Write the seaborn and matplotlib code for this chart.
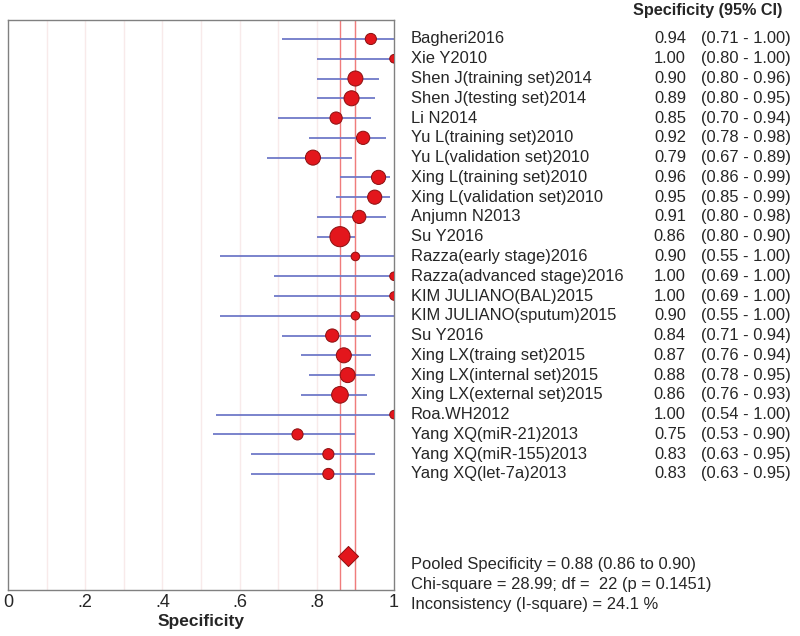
import matplotlib
matplotlib.use("Agg")
import matplotlib.pyplot as plt
import matplotlib.transforms as mtransforms
import seaborn as sns
import pandas as pd
import numpy as np

studies = ["Bagheri2016", "Xie Y2010", "Shen J(training set)2014", "Shen J(testing set)2014",
           "Li N2014", "Yu L(training set)2010", "Yu L(validation set)2010",
           "Xing L(training set)2010", "Xing L(validation set)2010", "Anjumn N2013", "Su Y2016",
           "Razza(early stage)2016", "Razza(advanced stage)2016", "KIM JULIANO(BAL)2015",
           "KIM JULIANO(sputum)2015", "Su Y2016", "Xing LX(traing set)2015",
           "Xing LX(internal set)2015", "Xing LX(external set)2015", "Roa.WH2012",
           "Yang XQ(miR-21)2013", "Yang XQ(miR-155)2013", "Yang XQ(let-7a)2013"]
spec = [0.94, 1.00, 0.90, 0.89, 0.85, 0.92, 0.79, 0.96, 0.95, 0.91, 0.86, 0.90, 1.00, 1.00,
        0.90, 0.84, 0.87, 0.88, 0.86, 1.00, 0.75, 0.83, 0.83]
ci_lo = [0.71, 0.80, 0.80, 0.80, 0.70, 0.78, 0.67, 0.86, 0.85, 0.80, 0.80, 0.55, 0.69, 0.69,
         0.55, 0.71, 0.76, 0.78, 0.76, 0.54, 0.53, 0.63, 0.63]
ci_hi = [1.00, 1.00, 0.96, 0.95, 0.94, 0.98, 0.89, 0.99, 0.99, 0.98, 0.90, 1.00, 1.00, 1.00,
         1.00, 0.94, 0.94, 0.95, 0.93, 1.00, 0.90, 0.95, 0.95]
weight = [2.5, 1.5, 4.5, 4.5, 3.0, 3.5, 4.5, 4.0, 4.0, 3.5, 8.0, 1.5, 1.5, 1.5,
          1.5, 3.5, 4.5, 4.5, 5.5, 1.5, 2.5, 2.5, 2.5]
pooled = 0.88
pooled_lo = 0.86
pooled_hi = 0.90
xticks = [0, 0.2, 0.4, 0.6, 0.8, 1.0]
xticklabels = ["0", ".2", ".4", ".6", ".8", "1"]
summary_lines = ["Pooled Specificity = 0.88 (0.86 to 0.90)",
                 "Chi-square = 28.99; df =  22 (p = 0.1451)",
                 "Inconsistency (I-square) = 24.1 %"]

sns.set_style("white")
plt.rcParams['font.family'] = ['Liberation Sans', 'DejaVu Sans']

df = pd.DataFrame({"study": studies, "spec": spec, "lo": ci_lo, "hi": ci_hi,
                   "w": weight, "row": np.arange(len(studies))})

fig = plt.figure(figsize=(8, 6.36), dpi=100)
ax = fig.add_axes([8/800, 1-590/636, 386/800, 570/636])

# grid lines
for g in np.arange(0.1, 1.0, 0.1):
    ax.axvline(g, color="#f8eaea", lw=1, zorder=0)
# pooled CI lines
ax.axvline(pooled_lo, color="#f07c7c", lw=1, zorder=1)
ax.axvline(pooled_hi, color="#f07c7c", lw=1, zorder=1)

ax.hlines(df["row"], df["lo"], df["hi"], color="#6f79c8", lw=1.3, zorder=2)
sns.scatterplot(data=df, x="spec", y="row", size="w", sizes=(38, 210), color="#e3161c",
                edgecolor="#8a1010", linewidth=0.7, legend=False, zorder=3, ax=ax)
diamond_y = 26.15
ax.scatter([pooled], [diamond_y], marker="D", s=105, color="#e3161c", edgecolor="#8a1010",
           linewidth=0.7, zorder=3)

ax.set_xlim(0, 1)
ax.set_ylim(27.87, -0.96)
ax.set_yticks([])
ax.set_xticks(xticks)
ax.set_xticklabels(xticklabels, fontsize=13)
ax.tick_params(axis="x", length=0, pad=3)
ax.set_xlabel("Specificity", fontsize=12.5, fontweight="bold", labelpad=2)
ax.set_ylabel("")
for s in ax.spines.values():
    s.set_color("#808080")
    s.set_linewidth(1)

fs = 11.9
trans = mtransforms.blended_transform_factory(fig.transFigure, ax.transData)
for i, row in df.iterrows():
    ax.text(411/800, row["row"], row["study"], transform=trans, fontsize=fs, va="center", ha="left")
    ax.text(686/800, row["row"], f"{row['spec']:.2f}", transform=trans, fontsize=fs,
            va="center", ha="right")
    ax.text(701/800, row["row"], f"({row['lo']:.2f} - {row['hi']:.2f})", transform=trans,
            fontsize=fs, va="center", ha="left")

fig.text(633/800, 1-11/636, "Specificity (95% CI)", fontsize=11.7, fontweight="bold",
         va="center", ha="left")
for k, line in enumerate(summary_lines):
    fig.text(411/800, 1-(565 + 19.5*k)/636, line, fontsize=fs, va="center", ha="left")

fig.savefig("out.png", dpi=100)
